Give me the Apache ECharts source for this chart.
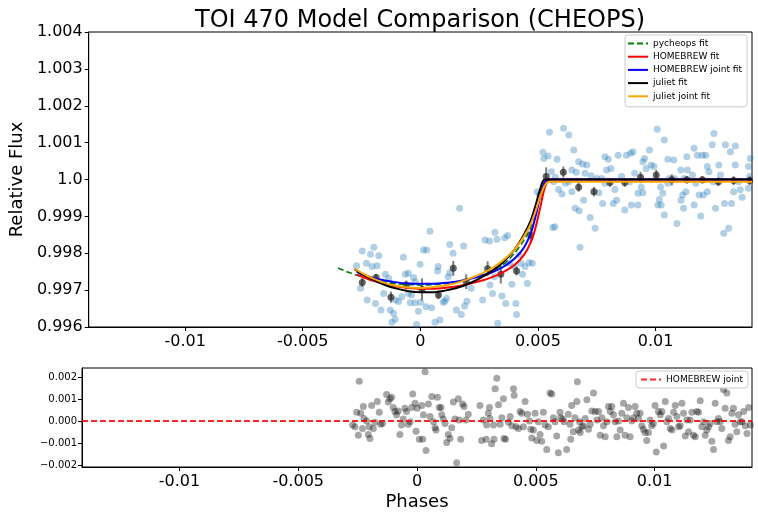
<!DOCTYPE html>
<html>
<head>
    <meta charset="utf-8">
    <title>TOI 470 Model Comparison</title>
    <script src="https://cdn.jsdelivr.net/npm/echarts@6/dist/echarts.min.js"></script>
    <style>
        html, body { margin: 0; padding: 0; background: #fff; }
        #chart { width: 758px; height: 518px; }
    </style>
</head>
<body>
<div id="chart"></div>
<script>
// raw CHEOPS points (phase, relative flux)
var rawPhase = [0.00041,-0.00247,-0.00198,-0.00212,-0.00177,-0.00271,-0.00229,-0.00205,-0.00184,-0.00254,
    -0.00226,-0.00191,-0.00167,-0.00149,-0.00135,-0.00156,-0.00128,-0.00114,-0.00121,-0.00107,
    -0.00072,-0.00064,-0.00051,-0.00029,-0.00022,-0.00051,-0.00037,-0.00079,-0.00093,-0.00107,
    -0.00043,-0.00022,0.00001,-0.00001,0.00013,0.00027,-0.00016,-0.00008,0.00024,0.00048,
    0.00062,0.00083,0.00076,0.00073,0.00111,0.00097,0.00104,0.00139,0.00125,0.00125,
    0.00118,0.00153,0.00174,0.00184,0.00198,0.00188,0.00216,0.00265,0.00275,0.00294,
    0.00317,0.00326,0.00359,0.00371,0.00315,0.00296,0.00307,0.00347,0.00363,0.00329,
    0.00406,0.00409,0.00389,0.00363,0.00378,0.00399,0.00420,0.00427,0.00434,0.00445,
    0.00455,0.00462,0.00476,0.00167,
    0.00609,0.00549,0.00631,0.00521,0.00543,0.00525,0.00581,0.00652,0.00673,0.00690,
    0.00708,0.00644,0.00663,0.00700,0.00726,0.00557,0.00574,0.00567,0.00616,0.00631,
    0.00588,0.00602,0.00497,0.00507,0.00644,0.00658,0.00675,0.00694,0.00722,0.00743,
    0.00563,0.00572,0.00679,0.00750,0.00771,0.00759,0.00775,0.00785,0.00799,0.00810,
    0.00792,0.00841,0.00785,0.00827,0.00834,0.00820,0.00869,0.00855,0.00876,0.00894,
    0.00904,0.00911,0.00890,0.00897,0.00925,0.00946,0.00953,0.00974,0.00981,0.00993,
    0.00960,0.00939,0.00925,0.00946,0.01007,0.01037,0.01052,0.01077,0.01058,0.01080,
    0.01021,0.01031,0.01016,0.01024,0.01010,0.01037,0.01091,0.01052,0.01108,0.01122,
    0.01136,0.01133,0.01164,0.01178,0.01115,0.01129,0.01119,0.01108,0.01157,0.01171,
    0.01164,0.01192,0.01185,0.01203,0.01213,0.01199,0.01220,0.01227,0.01241,0.01248,
    0.01220,0.01255,0.01245,0.01269,0.01276,0.01293,0.01290,0.01311,0.01297,0.01318,
    0.01339,0.01339,0.01353,0.01323,0.01332,0.01360,0.01368,0.01403,0.01395,0.01400,0.01395];
var rawFlux = [0.99860,0.99806,0.99816,0.99797,0.99793,0.99766,0.99773,0.99764,0.99766,0.99705,
    0.99673,0.99664,0.99646,0.99743,0.99732,0.99691,0.99646,0.99637,0.99613,0.99621,
    0.99789,0.99743,0.99746,0.99734,0.99723,0.99691,0.99687,0.99682,0.99669,0.99673,
    0.99666,0.99666,0.99667,0.99770,0.99809,0.99809,0.99607,0.99643,0.99655,0.99652,
    0.99613,0.99619,0.99764,0.99752,0.99678,0.99667,0.99670,0.99800,0.99824,0.99747,
    0.99736,0.99646,0.99634,0.99820,0.99670,0.99657,0.99705,0.99673,0.99836,0.99833,
    0.99857,0.99838,0.99842,0.99848,0.99736,0.99714,0.99691,0.99684,0.99664,0.99610,
    0.99664,0.99634,0.99716,0.99773,0.99774,0.99764,0.99795,0.99773,0.99743,0.99764,
    0.99718,0.99774,0.99773,0.99922,
    1.00139,1.00128,1.00121,1.00074,1.00064,1.00057,1.00055,1.00080,1.00048,1.00042,
    1.00039,1.00026,1.00020,1.00017,1.00010,1.00021,1.00006,0.99994,0.99990,0.99994,
    0.99973,0.99961,0.99967,0.99958,0.99967,0.99922,0.99915,0.99944,0.99897,0.99868,
    0.99870,0.99872,0.99816,1.00003,1.00003,0.99964,0.99935,1.00062,1.00055,1.00030,
    1.00026,1.00066,0.99990,0.99973,0.99944,0.99935,0.99917,1.00008,1.00066,1.00071,
    1.00075,1.00017,0.99994,0.99931,0.99931,1.00048,1.00057,1.00080,1.00039,1.00035,
    1.00030,0.99980,0.99963,0.99964,1.00136,1.00107,1.00055,1.00053,1.00003,1.00003,
    0.99980,0.99963,0.99946,0.99931,0.99931,0.99904,0.99881,0.99990,1.00026,1.00003,
    1.00026,1.00062,1.00085,1.00066,0.99958,0.99967,0.99922,0.99944,1.00012,0.99990,
    0.99931,0.99901,0.99958,0.99958,1.00066,1.00066,1.00035,1.00021,1.00094,1.00125,
    0.99967,0.99922,0.99994,1.00039,1.00012,0.99935,0.99854,0.99868,1.00094,1.00075,
    1.00091,1.00039,0.99994,0.99935,0.99967,0.99972,0.99952,1.00057,1.00035,1.00008,0.99976];

// binned points with error bars
var binPhase = [-0.00247,-0.00188,-0.00125,-0.00060,0.00007,0.00077,0.00140,0.00195,0.00286,0.00342,
    0.00409,0.00469,0.00535,0.00608,0.00673,0.00738,0.00806,0.00869,0.00936,0.01003,
    0.01069,0.01133,0.01199,0.01267,0.01332,0.01400];
var binFlux = [0.99721,0.99734,0.99681,0.99714,0.99702,0.99687,0.99759,0.99723,0.99758,0.99743,
    0.99752,0.99849,1.00008,1.00020,0.99979,0.99967,0.99992,0.99992,1.00006,1.00012,
    0.99999,0.99999,0.99999,0.99994,0.99997,0.99997];
var binErr = [0.00012,0.00010,0.00015,0.00012,0.00030,0.00012,0.00020,0.00020,0.00020,0.00025,
    0.00012,0.00020,0.00025,0.00015,0.00012,0.00013,0.00012,0.00012,0.00015,0.00014,
    0.00015,0.00010,0.00010,0.00012,0.00012,0.00012];

// model curves
var pycheopsPhase = [-0.0035,-0.0030,-0.0025,-0.0020,-0.0015,-0.0010,-0.0005,0,0.0005,0.0010,0.0015,0.0020,
    0.0025,0.0030,0.0035,0.0040,0.0044,0.0047,0.0049,0.0051,0.0053,0.0055,0.0141];
var pycheopsFlux = [0.99760,0.99747,0.99737,0.99729,0.99722,0.99717,0.99715,0.99714,0.99715,0.99717,0.99722,0.99729,
    0.99738,0.99750,0.99768,0.99800,0.99835,0.99872,0.99915,0.99960,0.99992,1.0,1.0];

var redPhase = [-0.0027,-0.0025,-0.0020,-0.0015,-0.0010,-0.0005,0,0.0005,0.0010,0.0015,0.0020,
    0.0025,0.0030,0.0035,0.0040,0.0044,0.0047,0.0049,0.0051,0.0053,0.0055,0.0141];
var redFlux = [0.99742,0.99737,0.99725,0.99716,0.99710,0.99706,0.99704,0.99704,0.99706,0.99710,0.99716,
    0.99724,0.99734,0.99748,0.99768,0.99795,0.99830,0.99870,0.99925,0.99980,1.0,1.0];

var bluePhase = [-0.0027,-0.0025,-0.0020,-0.0015,-0.0010,-0.0005,0,0.0005,0.0010,0.0015,0.0020,
    0.0025,0.0030,0.0035,0.0040,0.0044,0.0047,0.0049,0.0051,0.0053,0.0055,0.0141];
var blueFlux = [0.99750,0.99743,0.99733,0.99726,0.99721,0.99718,0.99717,0.99717,0.99719,0.99723,0.99729,
    0.99737,0.99747,0.99762,0.99785,0.99815,0.99855,0.99900,0.99955,0.99995,1.0,1.0];

var blackPhase = [-0.0028,-0.0025,-0.0020,-0.0015,-0.0010,-0.0005,0,0.0005,0.0010,0.0015,0.0020,
    0.0025,0.0030,0.0035,0.0040,0.0044,0.0047,0.0049,0.0051,0.0053,0.0141];
var blackFlux = [0.99757,0.99745,0.99728,0.99714,0.99704,0.99697,0.99694,0.99694,0.99698,0.99705,0.99716,
    0.99731,0.99750,0.99775,0.99810,0.99850,0.99890,0.99930,0.99975,1.0,1.0];

var orangePhase = [-0.0028,-0.0025,-0.0020,-0.0015,-0.0010,-0.0005,0,0.0005,0.0010,0.0015,0.0020,
    0.0025,0.0030,0.0035,0.0040,0.0044,0.0047,0.0049,0.0051,0.0053,0.0055,0.0141];
var orangeFlux = [0.99758,0.99747,0.99731,0.99719,0.99711,0.99707,0.99706,0.99708,0.99712,0.99719,0.99729,
    0.99742,0.99758,0.99780,0.99810,0.99845,0.99880,0.99915,0.99955,0.99985,0.99994,0.99994];

// residuals
var resPhase = [-0.00243,-0.00271,-0.00261,-0.00254,-0.00247,-0.00237,-0.00226,-0.00223,-0.00229,-0.00212,
    -0.00205,-0.00198,-0.00201,-0.00191,-0.00184,-0.00177,-0.00167,-0.00159,-0.00153,-0.00145,
    -0.00128,-0.00121,-0.00114,-0.00107,-0.00100,-0.00093,-0.00086,-0.00079,-0.00072,-0.00065,
    -0.00058,-0.00051,-0.00044,-0.00037,-0.00029,-0.00022,-0.00018,-0.00008,-0.00004,0.00001,
    0.00010,0.00024,0.00020,0.00027,0.00034,0.00038,0.00048,0.00055,0.00062,0.00069,
    0.00076,0.00080,0.00086,0.00094,0.00101,0.00104,0.00111,0.00118,0.00125,0.00132,
    0.00139,0.00146,0.00153,0.00160,0.00167,0.00174,0.00178,0.00184,0.00192,0.00198,
    0.00206,0.00216,0.00265,0.00272,0.00279,0.00291,0.00293,0.00300,0.00305,0.00307,
    0.00314,0.00322,0.00324,0.00329,0.00336,0.00343,0.00350,0.00357,0.00364,0.00366,
    0.00373,0.00385,0.00392,0.00399,0.00406,0.00409,0.00417,0.00427,0.00434,0.00441,
    0.00448,0.00455,0.00465,0.00473,0.00479,0.00483,0.00490,0.00497,0.00504,0.00511,
    0.00518,0.00525,0.00532,0.00539,0.00546,0.00553,0.00560,0.00567,0.00574,0.00581,
    0.00588,0.00595,0.00602,0.00605,0.00614,0.00619,0.00630,0.00637,0.00644,0.00647,
    0.00651,0.00658,0.00665,0.00673,0.00675,0.00680,0.00684,0.00687,0.00694,0.00701,
    0.00708,0.00715,0.00722,0.00729,0.00736,0.00743,0.00750,0.00757,0.00764,0.00771,
    0.00778,0.00785,0.00792,0.00799,0.00806,0.00813,0.00820,0.00827,0.00834,0.00841,
    0.00848,0.00855,0.00862,0.00869,0.00876,0.00883,0.00890,0.00897,0.00904,0.00911,
    0.00918,0.00925,0.00932,0.00939,0.00946,0.00953,0.00960,0.00967,0.00974,0.00981,
    0.00988,0.00995,0.01002,0.01007,0.01016,0.01024,0.01031,0.01038,0.01045,0.01052,
    0.01059,0.01066,0.01073,0.01080,0.01087,0.01094,0.01101,0.01108,0.01115,0.01122,
    0.01129,0.01136,0.01143,0.01150,0.01157,0.01164,0.01171,0.01178,0.01185,0.01192,
    0.01199,0.01206,0.01213,0.01220,0.01227,0.01234,0.01241,0.01248,0.01255,0.01262,
    0.01269,0.01276,0.01283,0.01290,0.01297,0.01304,0.01311,0.01318,0.01325,0.01332,
    0.01339,0.01346,0.01353,0.01360,0.01368,0.01375,0.01382,0.01389,0.01396,0.01403];
var resValue = [0.00181,-0.00018,-0.00026,0.00040,-0.00065,0.00035,0.00066,0.00012,-0.00034,0.00000,
    -0.00061,-0.00080,-0.00026,0.00071,-0.00034,-0.00006,0.00089,0.00040,-0.00015,-0.00011,
    0.00120,0.00086,0.00101,0.00108,0.00061,0.00043,0.00028,0.00046,-0.00061,-0.00018,
    0.00009,0.00058,0.00043,-0.00015,-0.00003,0.00061,0.00123,0.00081,-0.00046,0.00058,
    -0.00083,-0.00083,0.00071,0.00028,0.00224,-0.00134,0.00077,0.00020,0.00112,-0.00003,
    -0.00031,-0.00041,0.00108,0.00061,0.00061,0.00028,0.00009,-0.00011,-0.00098,-0.00061,
    -0.00080,-0.00031,0.00086,0.00009,-0.00190,0.00101,0.00005,-0.00083,0.00077,0.00066,
    0.00005,0.00031,0.00071,-0.00088,0.00005,-0.00083,-0.00018,0.00035,0.00061,0.00012,
    -0.00103,-0.00018,-0.00083,0.00147,0.00194,0.00074,-0.00015,0.00015,0.00101,-0.00080,
    -0.00083,-0.00006,0.00020,-0.00022,0.00147,0.00117,-0.00026,-0.00034,0.00043,0.00035,
    -0.00026,0.00089,0.00031,0.00000,-0.00037,-0.00077,-0.00041,0.00035,-0.00088,-0.00003,
    -0.00061,-0.00092,0.00040,-0.00018,-0.00129,-0.00026,0.00127,0.00123,0.00015,-0.00003,
    -0.00068,-0.00144,0.00040,0.00015,0.00009,-0.00003,-0.00129,0.00031,-0.00015,-0.00083,
    0.00071,-0.00049,0.00015,0.00089,0.00178,-0.00041,-0.00003,-0.00052,-0.00026,-0.00022,
    0.00012,0.00097,-0.00037,-0.00015,0.00046,0.00127,0.00043,0.00005,0.00043,-0.00065,
    0.00015,-0.00022,-0.00072,-0.00003,0.00066,0.00043,0.00066,0.00028,-0.00003,-0.00072,
    0.00000,-0.00041,0.00035,0.00081,-0.00065,0.00015,0.00061,-0.00072,0.00000,0.00015,
    0.00066,0.00035,0.00012,0.00035,-0.00022,-0.00037,-0.00052,-0.00088,-0.00052,0.00005,
    -0.00022,-0.00011,0.00071,-0.00141,0.00043,0.00028,0.00043,-0.00114,0.00089,-0.00003,
    0.00012,-0.00034,-0.00041,0.00040,0.00071,0.00020,-0.00026,-0.00022,0.00081,0.00035,
    -0.00068,0.00005,-0.00049,0.00005,0.00040,-0.00065,-0.00072,0.00043,0.00040,0.00092,
    -0.00026,-0.00003,-0.00065,-0.00041,-0.00026,-0.00011,-0.00092,-0.00129,0.00081,-0.00003,
    0.00012,-0.00003,-0.00034,0.00143,0.00058,0.00127,-0.00088,-0.00072,0.00035,0.00058,
    -0.00015,-0.00049,0.00028,-0.00003,-0.00003,0.00043,-0.00022,-0.00057,0.00061,-0.00018];

// zero residual line
var zeroPhase = [-0.0141, 0.0141];
var zeroValue = [0, 0];

var xTicks = [-0.01, -0.005, 0, 0.005, 0.01];
var xTickLabels = ['-0.01', '-0.005', '0', '0.005', '0.01'];
var fluxTicks = [0.996, 0.997, 0.998, 0.999, 1.0, 1.001, 1.002, 1.003, 1.004];
var fluxTickLabels = ['0.996', '0.997', '0.998', '0.999', '1.0', '1.001', '1.002', '1.003', '1.004'];
var resTicks = [-0.002, -0.001, 0, 0.001, 0.002];
var resTickLabels = ['\u22120.002', '\u22120.001', '0.000', '0.001', '0.002'];

function pairs(xs, ys) {
    var out = [];
    for (var i = 0; i < xs.length; i++) out.push([xs[i], ys[i]]);
    return out;
}
function labelFor(ticks, labels) {
    return function (v) {
        for (var i = 0; i < ticks.length; i++) {
            if (Math.abs(ticks[i] - v) < 1e-9) return labels[i];
        }
        return '';
    };
}

var errData = [];
for (var i = 0; i < binPhase.length; i++) {
    errData.push([binPhase[i], binFlux[i] - binErr[i], binFlux[i] + binErr[i]]);
}

var font = 'DejaVu Sans';
var chart = echarts.init(document.getElementById('chart'));

function xAxisFor(gridIndex, withName) {
    return {
        gridIndex: gridIndex,
        type: 'value',
        min: -0.0141,
        max: 0.0141,
        name: withName ? 'Phases' : '',
        nameLocation: 'middle',
        nameGap: 26,
        nameTextStyle: { color: '#000', fontSize: 18, fontFamily: font },
        axisLine: { show: true, onZero: false, lineStyle: { color: '#000', width: 1 } },
        axisTick: { show: true, length: 4, customValues: xTicks, lineStyle: { color: '#000' } },
        axisLabel: { customValues: xTicks, formatter: labelFor(xTicks, xTickLabels),
            color: '#000', fontSize: 16, fontFamily: font, margin: 7 },
        splitLine: { show: false }
    };
}

// legend: line only, no marker
var legendCommon = {
    orient: 'vertical',
    right: 10,
    itemWidth: 20,
    itemHeight: 10,
    borderColor: '#ccc',
    borderWidth: 1,
    borderRadius: 3,
    backgroundColor: '#fff',
    itemStyle: { opacity: 0 },
    textStyle: { color: '#000', fontSize: 9, fontFamily: font }
};

var option = {
    backgroundColor: '#fff',
    animation: false,
    title: {
        text: 'TOI 470 Model Comparison (CHEOPS)',
        left: 190,
        top: 4,
        textStyle: { color: '#000', fontSize: 24, fontWeight: 'normal', fontFamily: font }
    },
    grid: [
        { left: 82, right: 6, top: 32, height: 295, show: true, borderColor: '#000', borderWidth: 1 },
        { left: 82, right: 6, top: 368, height: 99, show: true, borderColor: '#000', borderWidth: 1 }
    ],
    legend: [
        Object.assign({}, legendCommon, {
            data: ['pycheops fit', 'HOMEBREW fit', 'HOMEBREW joint fit', 'juliet fit', 'juliet joint fit'],
            top: 35,
            left: 625,
            right: 'auto',
            itemGap: 4.2,
            padding: [4, 5, 6, 2]
        }),
        Object.assign({}, legendCommon, {
            data: ['HOMEBREW joint'],
            top: 371,
            padding: [4, 5, 4, 4]
        })
    ],
    xAxis: [xAxisFor(0, false), xAxisFor(1, true)],
    yAxis: [
        {
            gridIndex: 0,
            type: 'value',
            min: 0.996,
            max: 1.004,
            name: 'Relative Flux',
            nameLocation: 'middle',
            nameGap: 60,
            nameTextStyle: { color: '#000', fontSize: 18, fontFamily: font },
            axisLine: { show: true, onZero: false, lineStyle: { color: '#000' } },
            axisTick: { show: true, length: 4, customValues: fluxTicks, lineStyle: { color: '#000' } },
            axisLabel: { customValues: fluxTicks, formatter: labelFor(fluxTicks, fluxTickLabels),
                color: '#000', fontSize: 16, fontFamily: font, margin: 6 },
            splitLine: { show: false }
        },
        {
            gridIndex: 1,
            type: 'value',
            min: -0.00209,
            max: 0.00241,
            axisLine: { show: true, onZero: false, lineStyle: { color: '#000' } },
            axisTick: { show: true, length: 4, customValues: resTicks, lineStyle: { color: '#000' } },
            axisLabel: { customValues: resTicks, formatter: labelFor(resTicks, resTickLabels),
                color: '#000', fontSize: 10, fontFamily: font, margin: 5 },
            splitLine: { show: false }
        }
    ],
    series: [
        {
            name: 'data', type: 'scatter', xAxisIndex: 0, yAxisIndex: 0,
            data: pairs(rawPhase, rawFlux), symbolSize: 7,
            itemStyle: { color: '#1f77b4', opacity: 0.35 }
        },
        {
            name: 'binned err', type: 'custom', xAxisIndex: 0, yAxisIndex: 0,
            data: errData,
            renderItem: function (params, api) {
                var lo = api.coord([api.value(0), api.value(1)]);
                var hi = api.coord([api.value(0), api.value(2)]);
                return { type: 'line', shape: { x1: lo[0], y1: lo[1], x2: hi[0], y2: hi[1] },
                    style: { stroke: '#7f7f7f', lineWidth: 2 } };
            }
        },
        {
            name: 'binned', type: 'scatter', xAxisIndex: 0, yAxisIndex: 0,
            data: pairs(binPhase, binFlux), symbolSize: 7,
            itemStyle: { color: '#222', opacity: 0.7 }
        },
        {
            name: 'pycheops fit', type: 'line', xAxisIndex: 0, yAxisIndex: 0,
            data: pairs(pycheopsPhase, pycheopsFlux), symbol: 'none', smooth: 0.3,
            lineStyle: { color: '#008000', width: 1.6, type: [6, 3] }, itemStyle: { color: '#008000' }
        },
        {
            name: 'HOMEBREW fit', type: 'line', xAxisIndex: 0, yAxisIndex: 0,
            data: pairs(redPhase, redFlux), symbol: 'none', smooth: 0.3,
            lineStyle: { color: '#ff0000', width: 2 }, itemStyle: { color: '#ff0000' }
        },
        {
            name: 'HOMEBREW joint fit', type: 'line', xAxisIndex: 0, yAxisIndex: 0,
            data: pairs(bluePhase, blueFlux), symbol: 'none', smooth: 0.3,
            lineStyle: { color: '#0000ff', width: 2 }, itemStyle: { color: '#0000ff' }
        },
        {
            name: 'juliet fit', type: 'line', xAxisIndex: 0, yAxisIndex: 0,
            data: pairs(blackPhase, blackFlux), symbol: 'none', smooth: 0.3,
            lineStyle: { color: '#000000', width: 2 }, itemStyle: { color: '#000000' }
        },
        {
            name: 'juliet joint fit', type: 'line', xAxisIndex: 0, yAxisIndex: 0,
            data: pairs(orangePhase, orangeFlux), symbol: 'none', smooth: 0.3,
            lineStyle: { color: '#ffa500', width: 2 }, itemStyle: { color: '#ffa500' }
        },
        {
            name: 'residuals', type: 'scatter', xAxisIndex: 1, yAxisIndex: 1,
            data: pairs(resPhase, resValue), symbolSize: 7,
            itemStyle: { color: '#000', opacity: 0.35 }
        },
        {
            name: 'HOMEBREW joint', type: 'line', xAxisIndex: 1, yAxisIndex: 1,
            data: pairs(zeroPhase, zeroValue), symbol: 'none',
            lineStyle: { color: '#ff0000', width: 2, type: [6, 3], opacity: 0.85 }, itemStyle: { color: '#ff0000' }
        }
    ]
};

chart.setOption(option);
</script>
</body>
</html>
